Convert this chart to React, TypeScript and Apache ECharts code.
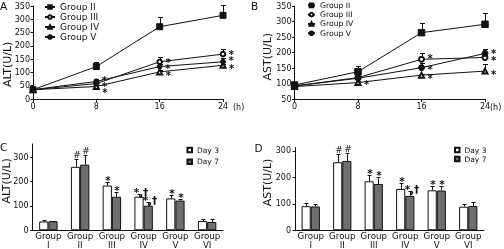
import React, { useEffect, useRef } from 'react';
import * as echarts from 'echarts';

const FONT = 'DejaVu Sans';
const INK = '#111';
const GRAY = '#6f6f6f';

// ---- Panel A / B (time course) ----
const hours = [0, 8, 16, 24];

const altII = [35, 122, 272, 315];
const altIISd = [4, 19, 38, 40];
const altIII = [35, 58, 140, 169];
const altIIISd = [3, 6, 17, 18];
const altIV = [35, 47, 102, 127];
const altIVSd = [3, 4, 6, 6];
const altV = [35, 66, 122, 140];
const altVSd = [3, 8, 10, 15];
const altIIStar = ['', '', '', ''];
const altIIIStar = ['', '*', '*', '*'];
const altIVStar = ['', '*', '*', '*'];
const altVStar = ['', '*', '*', '*'];

const astII = [95, 138, 264, 291];
const astIISd = [5, 18, 30, 35];
const astIII = [92, 119, 178, 184];
const astIIISd = [4, 6, 22, 8];
const astIV = [90, 103, 127, 140];
const astIVSd = [4, 4, 5, 22];
const astV = [92, 117, 151, 197];
const astVSd = [4, 6, 14, 13];
const astIIStar = ['', '', '', ''];
const astIIIStar = ['', '', '*', '*'];
const astIVStar = ['', '*', '*', '*'];
const astVStar = ['', '', '*', '*'];

const lineGroups = ['Group II', 'Group III', 'Group IV', 'Group V'];

// ---- Panel C / D (bars) ----
const barGroups = ['Group\nI', 'Group\nII', 'Group\nIII', 'Group\nIV', 'Group\nV', 'Group\nVI'];
const days = ['Day 3', 'Day 7'];

const altDay3 = [36, 261, 184, 138, 131, 38];
const altDay3Sd = [6, 34, 15, 12, 14, 8];
const altDay7 = [37, 270, 138, 101, 122, 34];
const altDay7Sd = [3, 39, 20, 15, 8, 14];
const altDay3Mark = ['', '#', '*', '*,†', '*', ''];
const altDay7Mark = ['', '#', '*', '*,†', '*', ''];

const astDay3 = [91, 257, 185, 156, 151, 89];
const astDay3Sd = [13, 30, 25, 23, 18, 12];
const astDay7 = [90, 262, 175, 130, 150, 92];
const astDay7Sd = [10, 29, 25, 20, 19, 15];
const astDay3Mark = ['', '#', '*', '*', '*', ''];
const astDay7Mark = ['', '#', '*', '*,†', '*', ''];

const ticksTopA = { min: 0, max: 350, interval: 50 };
const ticksTopB = { min: 50, max: 350, interval: 50 };
const barTickValues = [0, 100, 200, 300];

// vertical nudges (px) of the significance stars, so stacked stars separate as in the reference
const NUDGE_A = { III: [0, 1, -1, -1.5], IV: [0, 4, 1.5, 1], V: [0, -3, 0, -3] };
const NUDGE_B = { III: [0, 0, -2.5, 1], IV: [0, 0, 1.5, 1], V: [0, 0, 0, -2] };
const NO_NUDGE = [0, 0, 0, 0];

const starLabel = {
  position: 'right',
  distance: 2.5,
  fontSize: 10,
  fontWeight: 'bold',
  lineHeight: 5,
  color: INK,
  fontFamily: FONT,
  textBorderWidth: 0,
};

function lineSeries(
  name: string,
  vals: number[],
  stars: string[],
  symbol: string,
  size: number,
  grid: number,
  nudge: number[],
) {
  return {
    type: 'line',
    name,
    xAxisIndex: grid,
    yAxisIndex: grid,
    z: 3,
    color: INK,
    symbol,
    symbolSize: size,
    showAllSymbol: true,
    lineStyle: { color: INK, width: 1 },
    itemStyle: { color: INK, borderColor: INK, borderWidth: 1 },
    emphasis: { disabled: true },
    label: { ...starLabel, offset: [0, 2] },
    data: hours.map((h, i) => ({
      value: [h, vals[i]],
      label: { ...starLabel, offset: [0, 2 + nudge[i]], show: !!stars[i], formatter: stars[i] || ' ' },
    })),
  };
}

function lineErr(vals: number[], sds: number[], grid: number) {
  return {
    type: 'custom',
    xAxisIndex: grid,
    yAxisIndex: grid,
    z: 2,
    silent: true,
    color: INK,
    encode: { x: 0, y: 1 },
    data: hours.map((h, i) => [h, vals[i], sds[i]]),
    renderItem: (params: any, api: any) => {
      const x = api.value(0);
      const y = api.value(1);
      const sd = api.value(2);
      const p0 = api.coord([x, y]);
      const p1 = api.coord([x, y + sd]);
      const cx = Math.round(p0[0]) + 0.5;
      const ty = Math.round(p1[1]) + 0.5;
      const style = { stroke: INK, lineWidth: 1, fill: 'none' };
      return {
        type: 'group',
        children: [
          { type: 'line', shape: { x1: cx, y1: p0[1], x2: cx, y2: ty }, style },
          { type: 'line', shape: { x1: cx - 2.5, y1: ty, x2: cx + 2.5, y2: ty }, style },
        ],
      };
    },
  };
}

function barSeries(name: string, vals: number[], fill: string, grid: number) {
  return {
    type: 'bar',
    name,
    xAxisIndex: grid,
    yAxisIndex: grid,
    z: 2,
    barWidth: '29%',
    barGap: '0%',
    itemStyle: { color: fill, borderColor: INK, borderWidth: 1 },
    emphasis: { disabled: true },
    data: vals,
  };
}

function barErr(vals: number[], sds: number[], marks: string[], side: number, grid: number) {
  return {
    type: 'custom',
    xAxisIndex: grid,
    yAxisIndex: grid,
    z: 3,
    silent: true,
    color: INK,
    encode: { x: 0, y: 1 },
    data: vals.map((v, i) => [i, v, sds[i]]),
    renderItem: (params: any, api: any) => {
      const i = api.value(0);
      const v = api.value(1);
      const sd = api.value(2);
      const band = api.size([1, 0])[0];
      const p0 = api.coord([i, v]);
      const p1 = api.coord([i, v + sd]);
      const px = Math.round(p0[0] + side * band * 0.145);
      const cx = px + 0.5;
      const ty = Math.round(p1[1]) + 0.5;
      const style = { stroke: INK, lineWidth: 1, fill: 'none' };
      const mark = marks[params.dataIndex];
      const children: any[] = [
        { type: 'line', shape: { x1: cx, y1: p0[1], x2: cx, y2: ty }, style },
        { type: 'line', shape: { x1: cx - 2, y1: ty, x2: cx + 2, y2: ty }, style },
      ];
      if (mark) {
        const star = mark.charAt(0) === '*';
        children.push({
          type: 'text',
          x: px + (mark.length > 1 ? 2 : 1),
          y: Math.round(ty - 1 + (star ? 3 : 0)),
          style: {
            text: mark,
            fontSize: star ? 10.5 : 9.5,
            fontWeight: star ? 'bold' : 'normal',
            fontFamily: FONT,
            fill: INK,
            align: 'center',
            verticalAlign: 'bottom',
          },
        });
      }
      return { type: 'group', children };
    },
  };
}

const axisLine = { lineStyle: { color: INK, width: 1 } };
const tickStyle = { color: INK, width: 1 };
const labelBase = { color: INK, fontFamily: FONT, fontSize: 8 };

function buildOption() {
  const graphicText = (text: string, x: number, y: number, size: number, extra: any = {}) => ({
    type: 'text',
    x,
    y,
    silent: true,
    ...extra,
    style: {
      text,
      fontSize: size,
      fontFamily: FONT,
      fill: INK,
      align: extra.align || 'left',
      verticalAlign: extra.verticalAlign || 'top',
    },
  });

  const lineLegend = (left: number, top: number, itemWidth: number, fontSize: number, lineHeight: number) => ({
    orient: 'vertical',
    left,
    top,
    padding: 0,
    itemGap: 0,
    itemWidth,
    itemHeight: 4.5,
    selectedMode: false,
    data: lineGroups,
    textStyle: { fontSize, lineHeight, color: INK, fontFamily: FONT },
  });

  const barLegend = (left: number, top: number, lineHeight: number) => ({
    orient: 'vertical',
    left,
    top,
    padding: 0,
    itemGap: 0,
    itemWidth: 4.5,
    itemHeight: 4.5,
    icon: 'rect',
    selectedMode: false,
    data: days,
    textStyle: { fontSize: 7.5, lineHeight, color: INK, fontFamily: FONT },
  });

  const catAxis = (gridIndex: number) => ({
    type: 'category',
    gridIndex,
    data: barGroups,
    axisLine,
    axisTick: { inside: true, length: 2, lineStyle: tickStyle },
    axisLabel: { ...labelBase, fontSize: 8.7, lineHeight: 8.5, margin: 1.5, interval: 0 },
  });

  const timeAxis = (gridIndex: number) => ({
    type: 'value',
    gridIndex,
    min: 0,
    max: 24,
    interval: 8,
    axisLine,
    axisTick: { length: 3, lineStyle: tickStyle },
    splitLine: { show: false },
    axisLabel: { ...labelBase, margin: 3.5 },
  });

  const barValueAxis = (gridIndex: number, max: number) => ({
    type: 'value',
    gridIndex,
    min: 0,
    max,
    interval: 100,
    axisLine: { show: true, ...axisLine },
    axisTick: { show: true, length: 2.5, lineStyle: tickStyle, customValues: barTickValues },
    splitLine: { show: false },
    axisLabel: { ...labelBase, margin: 4, customValues: barTickValues },
  });

  const lineValueAxis = (gridIndex: number, ticks: any) => ({
    type: 'value',
    gridIndex,
    ...ticks,
    axisLine: { show: true, ...axisLine },
    axisTick: { show: true, length: 2.5, lineStyle: tickStyle },
    splitLine: { show: false },
    axisLabel: { ...labelBase, margin: 3 },
  });

  const vTitle = { rotation: Math.PI / 2, align: 'center', verticalAlign: 'middle' };

  return {
    animation: false,
    backgroundColor: 'transparent',
    color: [INK],
    textStyle: { fontFamily: FONT, color: INK },
    grid: [
      { left: 33, top: 6, width: 190, height: 93 },
      { left: 294.5, top: 6, width: 190.5, height: 93 },
      { left: 32.5, top: 144, width: 190.5, height: 87 },
      { left: 295, top: 147.7, width: 189, height: 83.3 },
    ],
    xAxis: [timeAxis(0), timeAxis(1), catAxis(2), catAxis(3)],
    yAxis: [
      lineValueAxis(0, ticksTopA),
      lineValueAxis(1, ticksTopB),
      barValueAxis(2, 355),
      barValueAxis(3, 312),
    ],
    legend: [
      lineLegend(44, 2, 10, 9, 10),
      lineLegend(307, 0.7, 7, 7.7, 9.3),
      barLegend(186.5, 144.2, 11.7),
      barLegend(454, 145.5, 9),
    ],
    graphic: [
      graphicText('A', 0, 0, 10.5),
      graphicText('B', 251, 0, 10.5),
      graphicText('C', 0, 141, 10.5),
      graphicText('D', 254.5, 142, 10.5),
      graphicText('ALT(U/L)', 7.2, 64.3, 11, vTitle),
      graphicText('AST(U/L)', 267.5, 56.7, 11, vTitle),
      graphicText('ALT(U/L)', 6.5, 180.8, 11, vTitle),
      graphicText('AST(U/L)', 267.5, 182.5, 11, vTitle),
      graphicText('(h)', 233, 107.3, 8, { verticalAlign: 'middle' }),
      graphicText('(h)', 490, 107.3, 8, { verticalAlign: 'middle' }),
    ],
    series: [
      lineErr(altII, altIISd, 0),
      lineErr(altIII, altIIISd, 0),
      lineErr(altIV, altIVSd, 0),
      lineErr(altV, altVSd, 0),
      lineSeries('Group II', altII, altIIStar, 'rect', 6, 0, NO_NUDGE),
      lineSeries('Group III', altIII, altIIIStar, 'emptyCircle', 4.5, 0, NUDGE_A.III),
      lineSeries('Group IV', altIV, altIVStar, 'emptyTriangle', 5, 0, NUDGE_A.IV),
      lineSeries('Group V', altV, altVStar, 'circle', 5, 0, NUDGE_A.V),

      lineErr(astII, astIISd, 1),
      lineErr(astIII, astIIISd, 1),
      lineErr(astIV, astIVSd, 1),
      lineErr(astV, astVSd, 1),
      lineSeries('Group II', astII, astIIStar, 'rect', 6.5, 1, NO_NUDGE),
      lineSeries('Group III', astIII, astIIIStar, 'emptyCircle', 5, 1, NUDGE_B.III),
      lineSeries('Group IV', astIV, astIVStar, 'emptyTriangle', 5, 1, NUDGE_B.IV),
      lineSeries('Group V', astV, astVStar, 'circle', 6, 1, NUDGE_B.V),

      barSeries('Day 3', altDay3, '#fff', 2),
      barSeries('Day 7', altDay7, GRAY, 2),
      barErr(altDay3, altDay3Sd, altDay3Mark, -1, 2),
      barErr(altDay7, altDay7Sd, altDay7Mark, 1, 2),

      barSeries('Day 3', astDay3, '#fff', 3),
      barSeries('Day 7', astDay7, GRAY, 3),
      barErr(astDay3, astDay3Sd, astDay3Mark, -1, 3),
      barErr(astDay7, astDay7Sd, astDay7Mark, 1, 3),
    ],
  };
}

export default function App() {
  const ref = useRef<HTMLDivElement>(null);
  useEffect(() => {
    document.body.style.background = '#fff';
    const chart = echarts.init(ref.current!, null, { renderer: 'svg' });
    chart.setOption(buildOption() as any);
    return () => chart.dispose();
  }, []);
  return (
    <div
      ref={ref}
      style={{ position: 'fixed', left: 0, top: 0, width: 504, height: 249, willChange: 'transform' }}
    />
  );
}
